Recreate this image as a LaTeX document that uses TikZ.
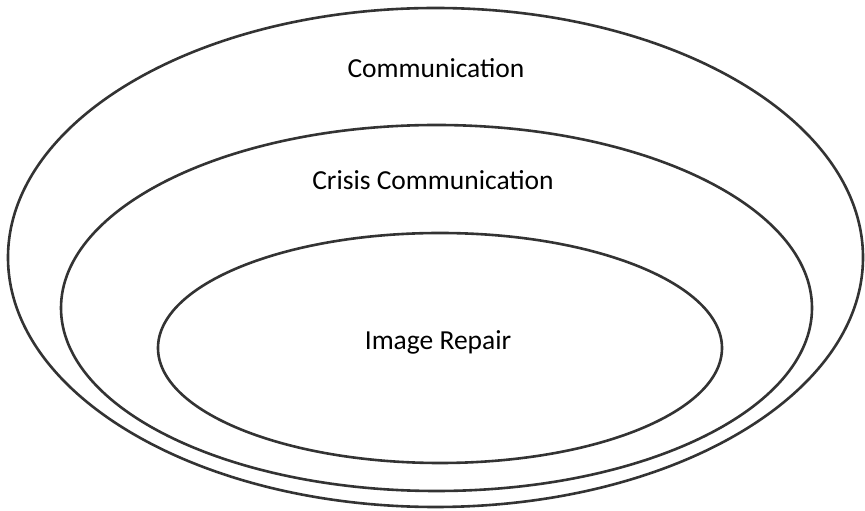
\documentclass[tikz,border=0pt]{standalone}
\usepackage{fontspec}
\setmainfont{Carlito}
\definecolor{linegray}{HTML}{333333}
\begin{document}
\begin{tikzpicture}[x=1pt,y=1pt,
  ring/.style={draw=linegray, line width=2.6pt},
  lbl/.style={font=\fontsize{27.5}{32}\selectfont, text=black, inner sep=0pt}]
\useasboundingbox (0,0) rectangle (865,511);
\fill[white] (0,0) rectangle (865,511);
\draw[ring] (435.5,253.5) ellipse [x radius=427.5, y radius=249.5];
\draw[ring] (436.5,203) ellipse [x radius=375.5, y radius=183];
\draw[ring] (440,163) ellipse [x radius=282, y radius=115];
\node[lbl] (comm) at (436,443) {Communication};
\node[lbl] (crisis) at (433,331) {Crisis Communication};
\node[lbl] (image) at (438,169) {Image Repair};
\end{tikzpicture}
\end{document}
